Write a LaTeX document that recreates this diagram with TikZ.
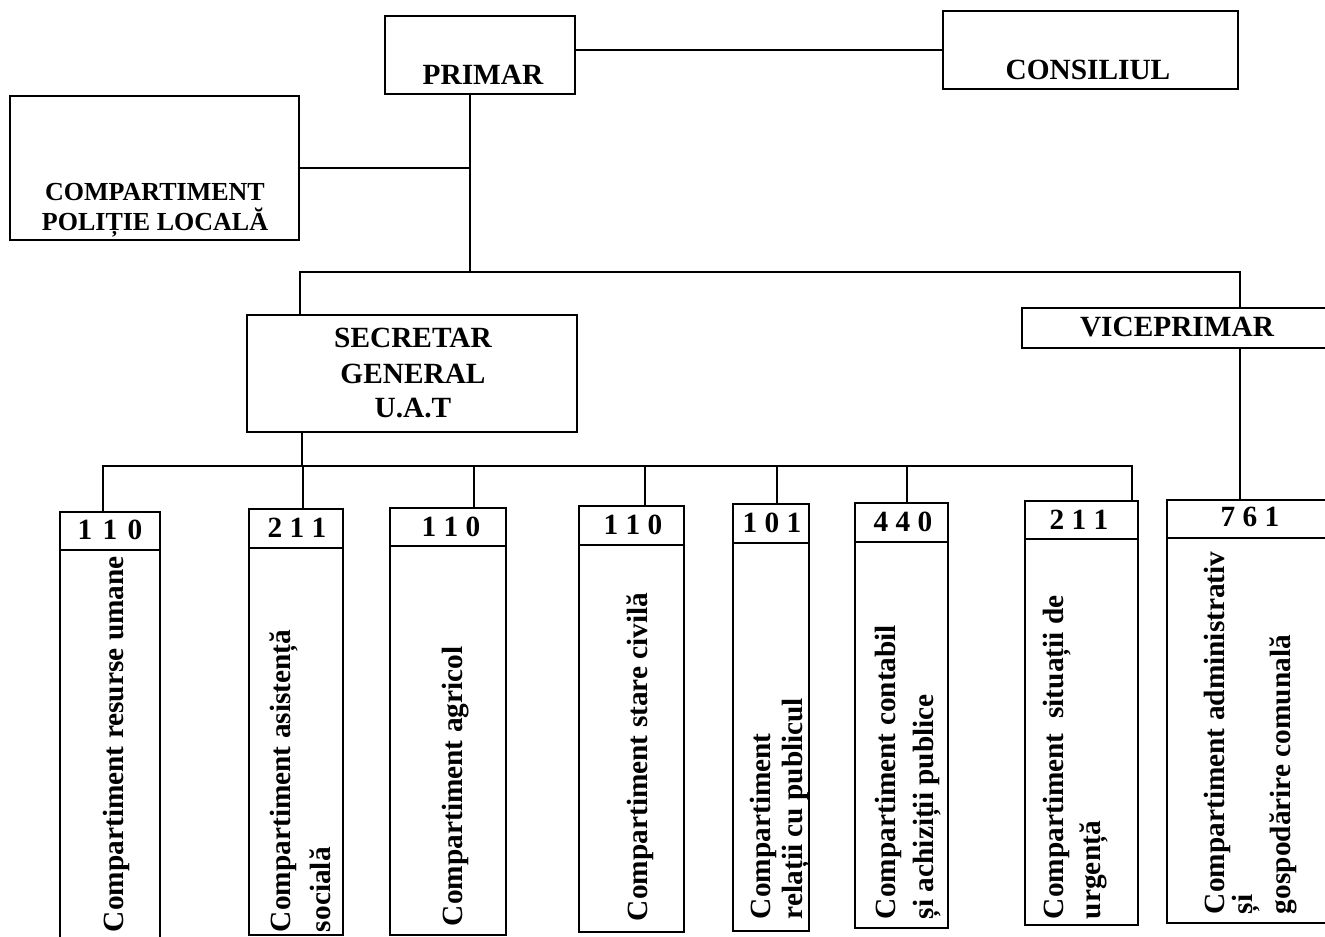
\documentclass[tikz,border=0pt]{standalone}
\usepackage{fontspec}
\setmainfont{Liberation Serif}
\newcommand\mkbox[5]{\node[boxst, minimum width={(#4-#2)*0.75pt}, minimum height={(#5-#3)*0.75pt}] (#1) at (#2,#3) {};}
\begin{document}
\begin{tikzpicture}[x=0.75pt, y=-0.75pt, line width=1.5pt,
  boxst/.style={draw, rectangle, inner sep=0pt, outer sep=0pt, anchor=north west},
  lab/.style={font=\fontsize{22}{26}\selectfont\bfseries, inner sep=0pt, anchor=base},
  smlab/.style={font=\fontsize{19.5}{24}\selectfont\bfseries, inner sep=0pt, anchor=base},
  vlab/.style={font=\fontsize{22}{26}\selectfont\bfseries, inner sep=0pt, rotate=90, anchor=base west},
  wire/.style={draw, line width=1.5pt, line cap=rect}]
\useasboundingbox[fill=white] (0,0) rectangle (1325,937);
\clip (0,0) rectangle (1325,937);

% top level boxes
\mkbox{primar}{385}{16}{575}{94}
\mkbox{consiliul}{943}{11}{1238}{89}
\mkbox{politie}{10}{96}{299}{240}
\mkbox{secretar}{247}{315}{577}{432}
\mkbox{vice}{1022}{308}{1335}{348}

% compartments: header + body
\mkbox{h1}{60}{512}{160}{550}   \mkbox{c1}{60}{550}{160}{945}
\mkbox{h2}{249}{509}{343}{548}  \mkbox{c2}{249}{548}{343}{935}
\mkbox{h3}{390}{508}{506}{546}  \mkbox{c3}{390}{546}{506}{935}
\mkbox{h4}{579}{506}{684}{545}  \mkbox{c4}{579}{545}{684}{932}
\mkbox{h5}{733}{504}{809}{543}  \mkbox{c5}{733}{543}{809}{931}
\mkbox{h6}{855}{503}{948}{542}  \mkbox{c6}{855}{542}{948}{928}
\mkbox{h7}{1025}{501}{1138}{539} \mkbox{c7}{1025}{539}{1138}{925}
\mkbox{h8}{1167}{500}{1335}{538} \mkbox{c8}{1167}{538}{1335}{923}

% labels of top boxes
\node[lab] (tprimar) at (483,85) {PRIMAR};
\node[lab] (tcons) at (1088,80) {CONSILIUL};
\node[smlab] (tpol1) at (155,201) {COMPARTIMENT};
\node[smlab] (tpol2) at (155,231) {POLIȚIE LOCALĂ};
\node[lab] (tsec1) at (413,348) {SECRETAR};
\node[lab] (tsec2) at (413,384) {GENERAL};
\node[lab] (tsec3) at (413,418) {U.A.T};
\node[lab] (tvice) at (1177,337) {VICEPRIMAR};

% numbers
\node[lab] (n1) at (110,540) {1\hspace{0.35em}1\hspace{0.35em}0};
\node[lab] (n2) at (297,538) {2 1 1};
\node[lab] (n3) at (451,537) {1 1 0};
\node[lab] (n4) at (633,535) {1 1 0};
\node[lab] (n5) at (772,533) {1 0 1};
\node[lab] (n6) at (903,532) {4 4 0};
\node[lab] (n7) at (1079,530) {2 1 1};
\node[lab] (n8) at (1250,527) {7 6 1};

% vertical labels
\node[vlab] (t1) at (123,933) {Compartiment resurse umane};
\node[vlab] (t2a) at (290,933) {Compartiment asistență};
\node[vlab] (t2b) at (330,933) {socială};
\node[vlab] (t3) at (462,927) {Compartiment agricol};
\node[vlab] (t4) at (647,922) {Compartiment stare civilă};
\node[vlab] (t5a) at (770,920) {Compartiment};
\node[vlab] (t5b) at (802,920) {relații cu publicul};
\node[vlab] (t6a) at (895,920) {Compartiment contabil};
\node[vlab] (t6b) at (933,920) {și achiziții publice};
\node[vlab] (t7a) at (1063,920) {Compartiment\ \ situații de};
\node[vlab] (t7b) at (1100,920) {urgență};
\node[vlab] (t8a) at (1224,915) {Compartiment administrativ};
\node[vlab] (t8b) at (1252,915) {și};
\node[vlab] (t8c) at (1290,915) {gospodărire comunală};

% connectors
\draw[wire] (consiliul.west -| primar.east) -- (consiliul.west);
\coordinate (j1) at (470,272);
\draw[wire] (j1 |- primar.south) -- (j1);
\draw[wire] (politie.east) -- (politie.east -| j1);
\coordinate (bl) at (300,272);
\coordinate (br) at (1240,272);
\draw[wire] (bl |- secretar.north) -- (bl) -- (br) -- (br |- vice.north);
\draw[wire] (br |- vice.south) -- (br |- h8.north);
\coordinate (sd) at (302,466);
\draw[wire] (sd |- secretar.south) -- (sd);
\coordinate (b2l) at (103,466);
\coordinate (b2r) at (1132,466);
\draw[wire] (b2l |- h1.north) -- (b2l) -- (b2r) -- (b2r |- h7.north);
\coordinate (d2) at (303,466);
\coordinate (d3) at (474,466);
\coordinate (d4) at (645,466);
\coordinate (d5) at (777,466);
\coordinate (d6) at (907,466);
\draw[wire] (d2) -- (d2 |- h2.north);
\draw[wire] (d3) -- (d3 |- h3.north);
\draw[wire] (d4) -- (d4 |- h4.north);
\draw[wire] (d5) -- (d5 |- h5.north);
\draw[wire] (d6) -- (d6 |- h6.north);
\end{tikzpicture}
\end{document}
